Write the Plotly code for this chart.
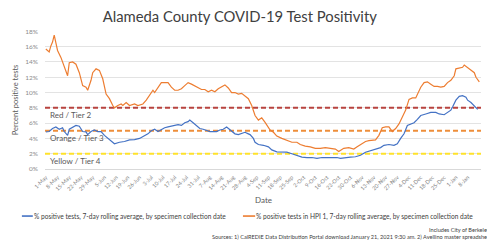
import plotly.graph_objects as go

# ---------------- data ----------------
hpi_dates = [
    "2020-05-01","2020-05-03","2020-05-04","2020-05-05","2020-05-06","2020-05-08","2020-05-10","2020-05-12",
    "2020-05-14","2020-05-15","2020-05-17","2020-05-19","2020-05-21","2020-05-23","2020-05-25","2020-05-26",
    "2020-05-28","2020-05-29","2020-05-31","2020-06-02","2020-06-04","2020-06-06","2020-06-08","2020-06-10",
    "2020-06-11","2020-06-13","2020-06-15","2020-06-16","2020-06-18","2020-06-20","2020-06-22","2020-06-23",
    "2020-06-25","2020-06-28","2020-06-30","2020-07-02","2020-07-04","2020-07-05","2020-07-07","2020-07-09",
    "2020-07-11","2020-07-13","2020-07-15","2020-07-17","2020-07-19","2020-07-21","2020-07-23","2020-07-25",
    "2020-07-27","2020-07-29","2020-07-31","2020-08-02","2020-08-04","2020-08-06","2020-08-08","2020-08-10",
    "2020-08-12","2020-08-14","2020-08-16","2020-08-18","2020-08-20","2020-08-22","2020-08-24","2020-08-26",
    "2020-08-28","2020-08-30","2020-09-01","2020-09-02","2020-09-03","2020-09-05","2020-09-07","2020-09-09",
    "2020-09-12","2020-09-14","2020-09-16","2020-09-19","2020-09-22","2020-09-25","2020-09-28","2020-09-30",
    "2020-10-03","2020-10-06","2020-10-09","2020-10-12","2020-10-15","2020-10-18","2020-10-21","2020-10-23",
    "2020-10-26","2020-10-29","2020-11-01","2020-11-03","2020-11-06","2020-11-08","2020-11-10","2020-11-12",
    "2020-11-14","2020-11-16","2020-11-18","2020-11-20","2020-11-22","2020-11-24","2020-11-26","2020-11-28",
    "2020-11-30","2020-12-02","2020-12-04","2020-12-06","2020-12-08","2020-12-09","2020-12-11","2020-12-13",
    "2020-12-15","2020-12-17","2020-12-19","2020-12-21","2020-12-23","2020-12-25","2020-12-27","2020-12-29",
    "2020-12-31","2021-01-01","2021-01-03","2021-01-05","2021-01-06","2021-01-08","2021-01-10","2021-01-12",
    "2021-01-13","2021-01-15",
]
hpi_values = [
    15.7, 15.3, 16.1, 16.6, 17.5, 15.5, 14.6, 13.5,
    12.2, 13.9, 14.0, 13.7, 12.6, 10.9, 10.7, 10.3,
    11.6, 12.6, 13.1, 12.9, 11.8, 9.8, 9.2, 8.3,
    8.0, 8.3, 8.5, 8.3, 8.7, 8.3, 8.4, 8.5,
    8.3, 8.5, 9.0, 9.6, 10.3, 10.0, 10.7, 11.3,
    11.3, 11.3, 10.7, 10.3, 10.3, 10.5, 10.9, 11.3,
    11.1, 10.9, 10.6, 10.4, 10.4, 10.1, 10.3, 10.1,
    10.5, 10.8, 11.0, 10.6, 10.0, 10.0, 9.8, 9.9,
    9.6, 9.2, 8.3, 7.7, 7.0, 6.4, 6.7, 6.1,
    5.1, 4.8, 4.3, 4.0, 3.8, 3.5, 3.5, 3.2,
    3.0, 2.9, 2.7, 2.7, 2.8, 2.7, 2.6, 2.3,
    2.7, 2.8, 2.6, 2.9, 3.3, 3.6, 3.7, 3.8,
    3.8, 4.4, 5.4, 5.5, 5.5, 4.9, 5.3, 5.9,
    6.8, 7.7, 9.1, 9.3, 9.3, 9.8, 10.7, 11.3,
    11.4, 11.1, 10.8, 10.8, 10.7, 10.8, 11.3, 11.6,
    12.2, 13.1, 13.2, 13.3, 13.6, 13.3, 13.0, 12.6,
    12.0, 11.4,
]

all_dates = [
    "2020-05-01","2020-05-03","2020-05-05","2020-05-07","2020-05-09","2020-05-11","2020-05-12","2020-05-14",
    "2020-05-15","2020-05-17","2020-05-19","2020-05-21","2020-05-23","2020-05-25","2020-05-26","2020-05-28",
    "2020-05-30","2020-06-01","2020-06-03","2020-06-05","2020-06-07","2020-06-09","2020-06-11","2020-06-14",
    "2020-06-17","2020-06-20","2020-06-23","2020-06-26","2020-06-29","2020-07-01","2020-07-03","2020-07-05",
    "2020-07-07","2020-07-09","2020-07-11","2020-07-13","2020-07-15","2020-07-17","2020-07-19","2020-07-21",
    "2020-07-23","2020-07-25","2020-07-26","2020-07-28","2020-07-30","2020-08-01","2020-08-03","2020-08-05",
    "2020-08-07","2020-08-09","2020-08-11","2020-08-13","2020-08-15","2020-08-17","2020-08-18","2020-08-20",
    "2020-08-22","2020-08-24","2020-08-26","2020-08-28","2020-08-30","2020-08-31","2020-09-02","2020-09-03",
    "2020-09-05","2020-09-08","2020-09-11","2020-09-13","2020-09-16","2020-09-19","2020-09-22","2020-09-25",
    "2020-09-28","2020-10-01","2020-10-04","2020-10-07","2020-10-10","2020-10-13","2020-10-16","2020-10-19",
    "2020-10-22","2020-10-24","2020-10-27","2020-10-30","2020-11-02","2020-11-05","2020-11-08","2020-11-11",
    "2020-11-14","2020-11-17","2020-11-19","2020-11-22","2020-11-25","2020-11-27","2020-11-29","2020-12-01",
    "2020-12-03","2020-12-05","2020-12-07","2020-12-09","2020-12-11","2020-12-14","2020-12-17","2020-12-20",
    "2020-12-22","2020-12-25","2020-12-27","2020-12-29","2020-12-30","2021-01-01","2021-01-03","2021-01-05",
    "2021-01-07","2021-01-08","2021-01-10","2021-01-12","2021-01-14",
]
all_values = [
    4.85, 4.9, 5.3, 5.5, 5.2, 5.4, 4.9, 4.4,
    5.2, 5.5, 5.7, 5.6, 4.9, 4.85, 4.5, 4.9,
    5.1, 4.9, 4.9, 4.4, 4.0, 3.6, 3.3, 3.5,
    3.6, 3.8, 3.85, 4.0, 4.3, 4.6, 5.0, 5.2,
    4.9, 5.2, 5.4, 5.5, 5.6, 5.6, 5.8, 5.7,
    6.05, 6.2, 6.4, 6.05, 5.7, 5.3, 5.2, 5.1,
    4.9, 4.9, 4.9, 5.1, 5.2, 5.5, 5.3, 4.9,
    4.6, 4.5, 4.6, 4.8, 4.6, 4.5, 4.0, 3.5,
    3.2, 3.1, 2.9, 2.5, 2.25, 2.2, 2.2, 2.0,
    1.8, 1.55, 1.5, 1.5, 1.4, 1.5, 1.5, 1.5,
    1.5, 1.4, 1.5, 1.55, 1.6, 1.8, 2.2, 2.4,
    2.6, 2.8, 3.1, 3.2, 3.1, 3.3, 4.0, 4.6,
    5.7, 5.9, 6.05, 6.5, 7.0, 7.2, 7.4, 7.4,
    7.2, 7.1, 7.4, 7.7, 8.1, 9.0, 9.5, 9.6,
    9.4, 9.0, 8.7, 8.3, 7.8,
]

tier_values = [8, 5, 2]
tier_labels = ["Red / Tier 2", "Orange / Tier 3", "Yellow / Tier 4"]

tick_dates = [
    "2020-05-01","2020-05-08","2020-05-15","2020-05-22","2020-05-29","2020-06-05","2020-06-12","2020-06-19",
    "2020-06-26","2020-07-03","2020-07-10","2020-07-17","2020-07-24","2020-07-31","2020-08-07","2020-08-14",
    "2020-08-21","2020-08-28","2020-09-04","2020-09-11","2020-09-18","2020-09-25","2020-10-02","2020-10-09",
    "2020-10-16","2020-10-23","2020-10-30","2020-11-06","2020-11-13","2020-11-20","2020-11-27","2020-12-04",
    "2020-12-11","2020-12-18","2020-12-25","2021-01-01","2021-01-08",
]
tick_labels = [
    "1-May","8-May","15-May","22-May","29-May","5-Jun","12-Jun","19-Jun",
    "26-Jun","3-Jul","10-Jul","17-Jul","24-Jul","31-Jul","7-Aug","14-Aug",
    "21-Aug","28-Aug","4-Sep","11-Sep","18-Sep","25-Sep","2-Oct","9-Oct",
    "16-Oct","23-Oct","30-Oct","6-Nov","13-Nov","20-Nov","27-Nov","4-Dec",
    "11-Dec","18-Dec","25-Dec","1-Jan","8-Jan",
]
y_ticks = [0, 2, 4, 6, 8, 10, 12, 14, 16, 18]

legend_all = "% positive tests, 7-day rolling average, by specimen collection date"
legend_hpi = "% positive tests in HPI 1, 7-day rolling average, by specimen collection date"
footnote_1 = "Includes City of Berkeley"
footnote_2 = "Sources: 1) CalREDIE Data Distribution Portal download January 21, 2021 9:30 am. 2) Avellino master spreadsheet"

# ---------------- style ----------------
FONT = "Lato"
BLUE = "#4472C4"
ORANGE = "#ED7D31"
tier_colors = ["#B8433F", "#EE8E3A", "#FFE22B"]
x_start, x_end = "2020-04-30 12:00", "2021-01-16"

fig = go.Figure()

for val, col in zip(tier_values, tier_colors):
    fig.add_trace(go.Scatter(
        x=[x_start, x_end], y=[val, val], mode="lines",
        line=dict(color=col, width=2, dash="5px,3px"),
        hoverinfo="skip", showlegend=False))

fig.add_trace(go.Scatter(x=all_dates, y=all_values, mode="lines",
                         line=dict(color=BLUE, width=1.2), showlegend=False))
fig.add_trace(go.Scatter(x=hpi_dates, y=hpi_values, mode="lines",
                         line=dict(color=ORANGE, width=1.2), showlegend=False))

# tier labels
for val, txt in zip(tier_values, tier_labels):
    fig.add_annotation(x=0.008, xref="paper", y=val - 1.0, yref="y",
                       text=txt, showarrow=False, xanchor="left", yanchor="middle",
                       font=dict(family=FONT, size=8, color="#595959"))

# x axis title
fig.add_annotation(xref="paper", yref="paper", x=0.5, y=-0.225, text="Date",
                   showarrow=False, xanchor="center", yanchor="middle",
                   font=dict(family=FONT, size=8, color="#595959"))

# legend built from shapes + text
fig.add_shape(type="line", xref="paper", yref="paper", x0=-0.053, x1=-0.028, y0=-0.341, y1=-0.341,
              line=dict(color=BLUE, width=1.6))
fig.add_annotation(xref="paper", yref="paper", x=-0.03, y=-0.341, text=legend_all,
                   showarrow=False, xanchor="left", yanchor="middle",
                   font=dict(family=FONT, size=6.6, color="#404040"))
fig.add_shape(type="line", xref="paper", yref="paper", x0=0.454, x1=0.482, y0=-0.341, y1=-0.341,
              line=dict(color=ORANGE, width=1.6))
fig.add_annotation(xref="paper", yref="paper", x=0.479, y=-0.341, text=legend_hpi,
                   showarrow=False, xanchor="left", yanchor="middle",
                   font=dict(family=FONT, size=6.6, color="#404040"))

# footnotes
fig.add_annotation(xref="paper", yref="paper", x=1.025, y=-0.435, text=footnote_1,
                   showarrow=False, xanchor="right", yanchor="middle",
                   font=dict(family=FONT, size=5.6, color="#404040"))
fig.add_annotation(xref="paper", yref="paper", x=1.029, y=-0.49, text=footnote_2,
                   showarrow=False, xanchor="right", yanchor="middle",
                   font=dict(family=FONT, size=5.6, color="#404040"))

# the page adds an 8px body margin, so the figure is sized 8px smaller in each direction
fig.update_layout(
    width=487, height=233,
    margin=dict(l=37, r=14, t=23, b=72),
    paper_bgcolor="white", plot_bgcolor="white",
    title=dict(text="Alameda County COVID-19 Test Positivity", x=0.476, xanchor="center",
               yref="container", y=0.961, yanchor="middle",
               font=dict(family=FONT, size=14.8, color="#404040")),
    showlegend=False,
    xaxis=dict(
        type="date", range=[x_start, x_end], automargin=False,
        tickmode="array", tickvals=tick_dates, ticktext=tick_labels,
        tickangle=-45, tickfont=dict(family=FONT, size=5.5, color="#7f7f7f"),
        showgrid=False, showline=True, linecolor="#d9d9d9", linewidth=1,
        ticks="", zeroline=False, ticklabelstandoff=2,
    ),
    yaxis=dict(
        range=[0, 18.05], automargin=False, tickmode="array", tickvals=y_ticks,
        ticktext=[f"{v}%" for v in y_ticks],
        tickfont=dict(family=FONT, size=6.5, color="#8c8c8c"),
        showgrid=True, gridcolor="#e3e3e3", gridwidth=1, zeroline=False,
        ticks="", ticklabelstandoff=6,
        title=dict(text="Percent positive tests", font=dict(family=FONT, size=7.5, color="#595959"), standoff=5),
    ),
)

fig.write_html("out.html")
